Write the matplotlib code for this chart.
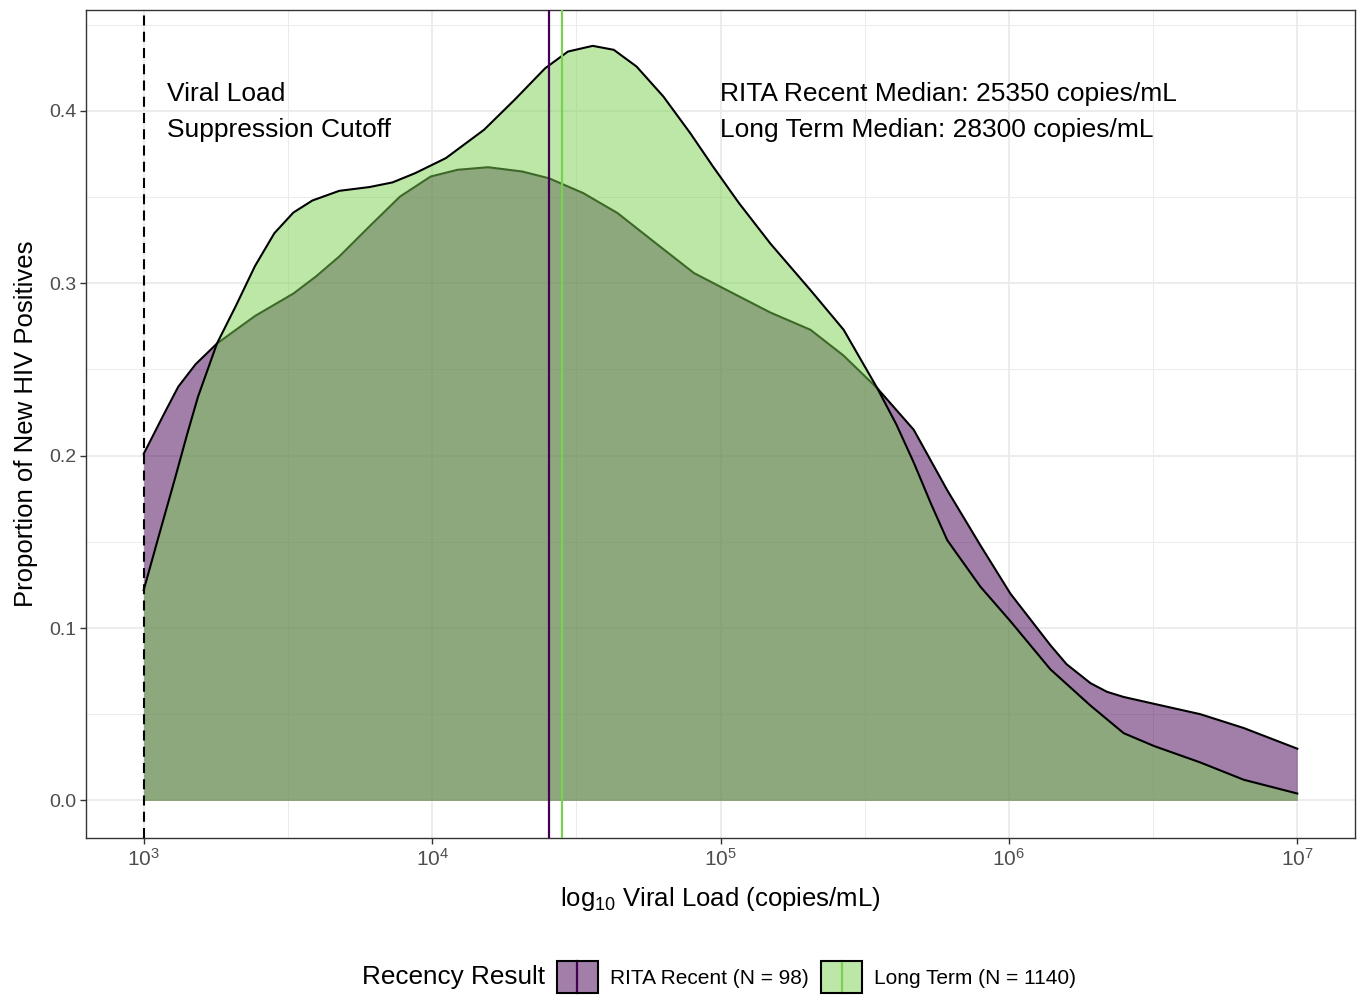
import matplotlib
matplotlib.use("Agg")
import matplotlib.pyplot as plt
import numpy as np
from matplotlib.legend_handler import HandlerBase
from matplotlib.lines import Line2D
from matplotlib.patches import Patch, Rectangle

plt.rcParams["font.family"] = ["Liberation Sans", "DejaVu Sans"]
plt.rcParams["mathtext.fontset"] = "custom"
plt.rcParams["mathtext.rm"] = "Liberation Sans"
plt.rcParams["mathtext.it"] = "Liberation Sans:italic"

# density estimates on log10 viral load (copies/mL)
recent_x = [3.000, 3.070, 3.120, 3.180, 3.254, 3.320, 3.386, 3.519, 3.598, 3.678,
            3.783, 3.889, 3.995, 4.088, 4.194, 4.313, 4.405, 4.524, 4.643, 4.775,
            4.908, 5.064, 5.173, 5.312, 5.427, 5.544, 5.670, 5.786, 5.901, 6.005,
            6.144, 6.200, 6.283, 6.340, 6.398, 6.504, 6.664, 6.814, 7.000]
recent_y = [0.201, 0.224, 0.240, 0.253, 0.265, 0.273, 0.281, 0.294, 0.304, 0.3155,
            0.333, 0.3503, 0.3619, 0.3658, 0.3673, 0.3648, 0.3609, 0.3523, 0.3407, 0.3233,
            0.3059, 0.2924, 0.283, 0.273, 0.258, 0.239, 0.215, 0.180, 0.148, 0.120,
            0.090, 0.079, 0.068, 0.063, 0.060, 0.056, 0.050, 0.042, 0.030]

longterm_x = [3.000, 3.055, 3.109, 3.150, 3.188, 3.254, 3.320, 3.386, 3.453, 3.519,
              3.585, 3.678, 3.783, 3.863, 3.942, 4.048, 4.180, 4.286, 4.392, 4.471,
              4.557, 4.630, 4.709, 4.802, 4.895, 4.974, 5.064, 5.173, 5.312, 5.427,
              5.544, 5.610, 5.670, 5.730, 5.786, 5.901, 6.005, 6.144, 6.283, 6.398,
              6.504, 6.664, 6.814, 7.000]
longterm_y = [0.122, 0.155, 0.187, 0.212, 0.234, 0.265, 0.287, 0.310, 0.329, 0.341,
              0.348, 0.3536, 0.3558, 0.3585, 0.3639, 0.3726, 0.389, 0.4064, 0.4247, 0.4344,
              0.4377, 0.4354, 0.4257, 0.4083, 0.3871, 0.3677, 0.3465, 0.323, 0.296, 0.273,
              0.239, 0.218, 0.196, 0.172, 0.151, 0.124, 0.104, 0.076, 0.055, 0.039,
              0.0315, 0.022, 0.012, 0.004]

groups = ["RITA Recent", "Long Term"]
group_n = [98, 1140]
medians = [25350, 28300]
colors = ["#440154", "#7AD151"]
cutoff = 1000

x_ticks = [3, 4, 5, 6, 7]
y_ticks = [0.0, 0.1, 0.2, 0.3, 0.4]


class MedianKey(HandlerBase):
    """Filled square key with the group's median line through its middle."""

    def create_artists(self, legend, orig_handle, xdescent, ydescent,
                       width, height, fontsize, trans):
        col = orig_handle.get_facecolor()[:3]
        x0, y0 = -xdescent, -ydescent
        fill = Rectangle((x0, y0), width, height, facecolor=col, alpha=0.5,
                         edgecolor="none", transform=trans)
        line = Line2D([x0 + width / 2] * 2, [y0, y0 + height], color=col,
                      lw=1.6, transform=trans)
        edge = Rectangle((x0, y0), width, height, facecolor="none",
                         edgecolor="black", lw=1.5, transform=trans)
        return [fill, line, edge]


fig = plt.figure(figsize=(13.63, 9.97), dpi=100)
ax = fig.add_axes([86 / 1363, (997 - 838) / 997, (1355 - 86) / 1363, (838 - 10) / 997])

curves = [(recent_x, recent_y), (longterm_x, longterm_y)]
for (xs, ys), col in zip(curves, colors):
    ax.fill_between(xs, 0, ys, color=col, alpha=0.5, lw=0, zorder=2)
    ax.plot(xs, ys, color="black", lw=1.5, zorder=2, solid_joinstyle="round")

ax.axvline(np.log10(cutoff), color="black", lw=1.5, ls=(0, (4.8, 3)), zorder=4)
for med, col in zip(medians, colors):
    ax.axvline(np.log10(med), color=col, lw=1.6, zorder=4)

ax.text(3.08, 0.3994, "Viral Load\nSuppression Cutoff", fontsize=19, ha="left",
        va="center", linespacing=1.62, zorder=5)
ax.text(5.0, 0.3994, f"RITA Recent Median: {medians[0]} copies/mL\n"
                     f"Long Term Median: {medians[1]} copies/mL",
        fontsize=19, ha="left", va="center", linespacing=1.62, zorder=5)

ax.set_xlim(2.8, 7.2)
ax.set_ylim(-0.0218, 0.4585)
ax.set_xticks(x_ticks)
ax.set_xticklabels([f"$10^{{{t}}}$" for t in x_ticks])
ax.set_xticks([3.5, 4.5, 5.5, 6.5], minor=True)
ax.set_yticks(y_ticks)
ax.set_yticklabels([f"{t:.1f}" for t in y_ticks])
ax.set_yticks([0.05, 0.15, 0.25, 0.35, 0.45], minor=True)
ax.grid(which="major", color="#ebebeb", lw=1.3, zorder=0)
ax.grid(which="minor", color="#ebebeb", lw=0.7, zorder=0)
ax.set_axisbelow(True)
ax.tick_params(which="major", length=4, width=1.0, color="#333333",
               labelsize=14, labelcolor="#4d4d4d", pad=3)
ax.tick_params(axis="x", which="major", labelsize=15)
ax.tick_params(which="minor", length=0)
for s in ax.spines.values():
    s.set_color("#333333")
    s.set_linewidth(1.0)

ax.set_xlabel(r"log$_{10}$ Viral Load (copies/mL)", fontsize=18.5, labelpad=11)
ax.set_ylabel("Proportion of New HIV Positives", fontsize=18.5, labelpad=8)

handles = [Patch(facecolor=col) for col in colors]
labels = [f"{g} (N = {n})" for g, n in zip(groups, group_n)]
fig.text(362 / 1363, 20 / 997, "Recency Result", fontsize=18.8, ha="left", va="center")
fig.legend(handles, labels, loc="center left", bbox_to_anchor=(557 / 1363, 20 / 997),
           ncol=2, frameon=False, fontsize=15, handlelength=1.95, handleheight=1.95,
           handletextpad=0.6, columnspacing=0.6, borderpad=0, borderaxespad=0,
           handler_map={Patch: MedianKey()})

fig.savefig("out.png", dpi=100)
